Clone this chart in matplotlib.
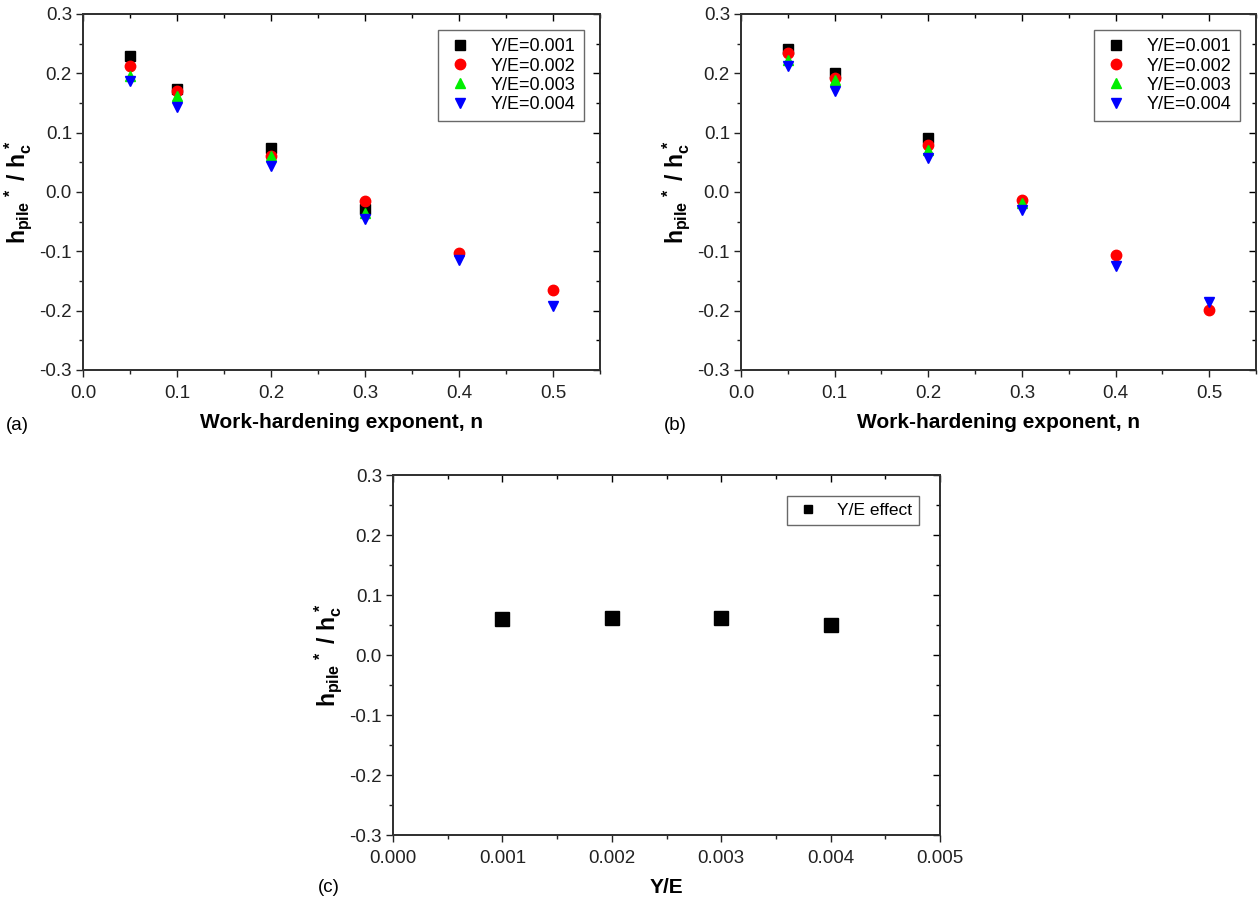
import numpy as np
import matplotlib
matplotlib.use("Agg")
import matplotlib.pyplot as plt
from matplotlib.ticker import MultipleLocator, FormatStrFormatter

plt.rcParams['font.family'] = ['Liberation Sans', 'DejaVu Sans']
plt.rcParams['mathtext.fontset'] = 'custom'
plt.rcParams['mathtext.rm'] = 'Liberation Sans'
plt.rcParams['mathtext.bf'] = 'Liberation Sans:bold'
plt.rcParams['mathtext.it'] = 'Liberation Sans:italic'

# ---- data ----
n_values = [0.05, 0.1, 0.2, 0.3, 0.4, 0.5]
series_labels = ["Y/E=0.001", "Y/E=0.002", "Y/E=0.003", "Y/E=0.004"]

a_ye001 = [0.230, 0.174, 0.074, -0.028, np.nan, np.nan]
a_ye002 = [0.213, 0.170, 0.061, -0.016, -0.103, -0.166]
a_ye003 = [0.195, 0.161, 0.061, -0.035, np.nan, np.nan]
a_ye004 = [0.187, 0.143, 0.044, -0.045, -0.115, -0.192]

b_ye001 = [0.241, 0.201, 0.091, np.nan, np.nan, np.nan]
b_ye002 = [0.234, 0.192, 0.079, -0.014, -0.107, -0.199]
b_ye003 = [0.223, 0.189, 0.070, -0.019, np.nan, np.nan]
b_ye004 = [0.213, 0.170, 0.058, -0.031, -0.124, -0.186]

ye_values = [0.001, 0.002, 0.003, 0.004]
c_effect = [0.060, 0.061, 0.061, 0.050]
c_label = "Y/E effect"

markers = ['s', 'o', '^', 'v']
colors = ['#000000', '#ff0000', '#00ee00', '#0000ff']
msizes = [6.5, 7.5, 7.5, 7.5]

ylabel = r'$\mathbf{h_{pile}}$$\mathbf{^{\,*}}$ $\mathbf{/}$ $\mathbf{h_c^{\,*}}$'

fig = plt.figure(figsize=(12.58, 9.0), dpi=100)


def style_axes(ax):
    ax.set_ylim(-0.3, 0.3)
    ax.yaxis.set_major_locator(MultipleLocator(0.1))
    ax.yaxis.set_minor_locator(MultipleLocator(0.05))
    ax.yaxis.set_major_formatter(FormatStrFormatter('%.1f'))
    ax.tick_params(which='both', direction='out', top=False, right=False,
                   labelsize=13.5, width=1.0, colors='#222222')
    ax.tick_params(axis='x', pad=6)
    ax.tick_params(axis='y', pad=3)
    ax.tick_params(which='major', length=5)
    ax.tick_params(which='minor', length=3)
    for s in ax.spines.values():
        s.set_linewidth(1.2)
        s.set_color('#333333')
    axt = ax.twiny()
    axt.set_xlim(ax.get_xlim())
    axt.xaxis.set_major_locator(ax.xaxis.get_major_locator())
    axt.xaxis.set_minor_locator(ax.xaxis.get_minor_locator())
    axt.tick_params(which='both', direction='in', labeltop=False, width=1.0)
    axt.tick_params(which='major', length=5)
    axt.tick_params(which='minor', length=3)
    axr = ax.twinx()
    axr.set_ylim(ax.get_ylim())
    axr.yaxis.set_major_locator(MultipleLocator(0.1))
    axr.yaxis.set_minor_locator(MultipleLocator(0.05))
    axr.tick_params(which='both', direction='in', labelright=False, width=1.0)
    axr.tick_params(which='major', length=5)
    axr.tick_params(which='minor', length=3)
    for s in list(axt.spines.values()) + list(axr.spines.values()):
        s.set_linewidth(1.2)
        s.set_color('#333333')


def n_panel(rect, data, tag, tagpos):
    ax = fig.add_axes(rect)
    for vals, lab, m, c, ms in zip(data, series_labels, markers, colors, msizes):
        ax.plot(n_values, vals, linestyle='none', marker=m, color=c,
                markersize=ms, label=lab)
    ax.set_xlim(0.0, 0.55)
    ax.xaxis.set_major_locator(MultipleLocator(0.1))
    ax.xaxis.set_minor_locator(MultipleLocator(0.05))
    ax.xaxis.set_major_formatter(FormatStrFormatter('%.1f'))
    ax.set_xlabel('Work-hardening exponent, n', fontsize=15, fontweight='bold',
                  labelpad=8)
    ax.set_ylabel(ylabel, fontsize=16.5, labelpad=4)
    leg = ax.legend(loc='upper right', fontsize=13, frameon=True,
                    fancybox=False, edgecolor='#444444', handletextpad=0.9,
                    borderpad=0.45, labelspacing=0.12, handlelength=1.6,
                    borderaxespad=0.9)
    leg.get_frame().set_linewidth(1.0)
    style_axes(ax)
    fig.text(tagpos[0], tagpos[1], tag, fontsize=13.5)
    return ax


n_panel([83 / 1258, 1 - 370 / 900, 517 / 1258, 356 / 900],
        [a_ye001, a_ye002, a_ye003, a_ye004], '(a)', (6 / 1258, 1 - 430 / 900))
n_panel([741 / 1258, 1 - 370 / 900, 515 / 1258, 356 / 900],
        [b_ye001, b_ye002, b_ye003, b_ye004], '(b)', (664 / 1258, 1 - 430 / 900))

axc = fig.add_axes([393 / 1258, 1 - 835 / 900, 547 / 1258, 360 / 900])
axc.plot(ye_values, c_effect, linestyle='none', marker='s', color='black',
         markersize=10, label=c_label)
axc.set_xlim(0.0, 0.005)
axc.xaxis.set_major_locator(MultipleLocator(0.001))
axc.xaxis.set_minor_locator(MultipleLocator(0.0005))
axc.xaxis.set_major_formatter(FormatStrFormatter('%.3f'))
axc.set_xlabel('Y/E', fontsize=15, fontweight='bold', labelpad=8)
axc.set_ylabel(ylabel, fontsize=16.5, labelpad=4)
legc = axc.legend(loc='upper right', fontsize=12.5, frameon=True, fancybox=False,
                  edgecolor='#444444', markerscale=0.6, handletextpad=0.9,
                  borderpad=0.4, handlelength=1.6, borderaxespad=1.2)
legc.get_frame().set_linewidth(1.0)
style_axes(axc)
fig.text(318 / 1258, 1 - 892 / 900, '(c)', fontsize=13.5)

fig.savefig('out.png', dpi=100)
